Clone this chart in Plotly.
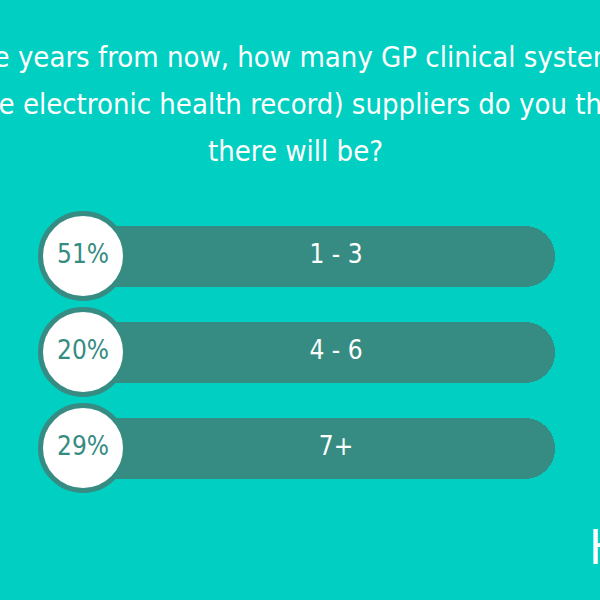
import plotly.graph_objects as go

title_lines = [
    "Five years from now, how many GP clinical systems",
    "(core electronic health record) suppliers do you think",
    "there will be?",
]
categories = ["1 - 3", "4 - 6", "7+"]
percentages = [51, 20, 29]
pct_labels = [f"{p}%" for p in percentages]

BG = "#00CFC1"
DARK = "#368C82"
FONT = "DejaVu Sans Condensed, DejaVu Sans, sans-serif"

idx = list(range(len(categories)))

fig = go.Figure()
fig.add_trace(go.Bar(
    y=idx, x=[510] * len(idx), base=45, orientation="h",
    width=61 / 96, marker=dict(color=DARK, cornerradius=30, line=dict(width=0)),
    hoverinfo="skip", showlegend=False,
))
fig.add_trace(go.Scatter(
    x=[336] * len(idx), y=idx, mode="text", text=categories,
    textfont=dict(family=FONT, size=26, color="white"),
    hoverinfo="skip", showlegend=False,
))
fig.add_trace(go.Scatter(
    x=[83] * len(idx), y=idx, mode="markers+text", text=pct_labels,
    textposition="middle center",
    textfont=dict(family=FONT, size=26, color=DARK),
    marker=dict(size=85, color="white", line=dict(color=DARK, width=5)),
    hoverinfo="skip", showlegend=False,
))

title_y = [57, 104, 151]
for line, yp in zip(title_lines, title_y):
    fig.add_annotation(
        text=line, xref="paper", yref="paper", x=295 / 600, y=1 - yp / 600,
        xanchor="center", yanchor="middle", showarrow=False,
        font=dict(family=FONT, size=29, color="white"),
    )

fig.add_annotation(
    text="H", xref="paper", yref="paper", x=587 / 600, y=1 - 547 / 600,
    xanchor="left", yanchor="middle", showarrow=False,
    font=dict(family=FONT, size=48, color="white"),
)

fig.update_layout(
    width=600, height=600, margin=dict(l=0, r=0, t=0, b=0),
    paper_bgcolor=BG, plot_bgcolor=BG,
    xaxis=dict(range=[0, 600], visible=False, fixedrange=True),
    yaxis=dict(range=[344 / 96, -256 / 96], visible=False, fixedrange=True),
    bargap=0,
)
fig.write_html(
    "out.html",
    config={"displayModeBar": False},
    post_script="document.body.style.margin='0';document.body.style.background='%s';" % BG,
)
